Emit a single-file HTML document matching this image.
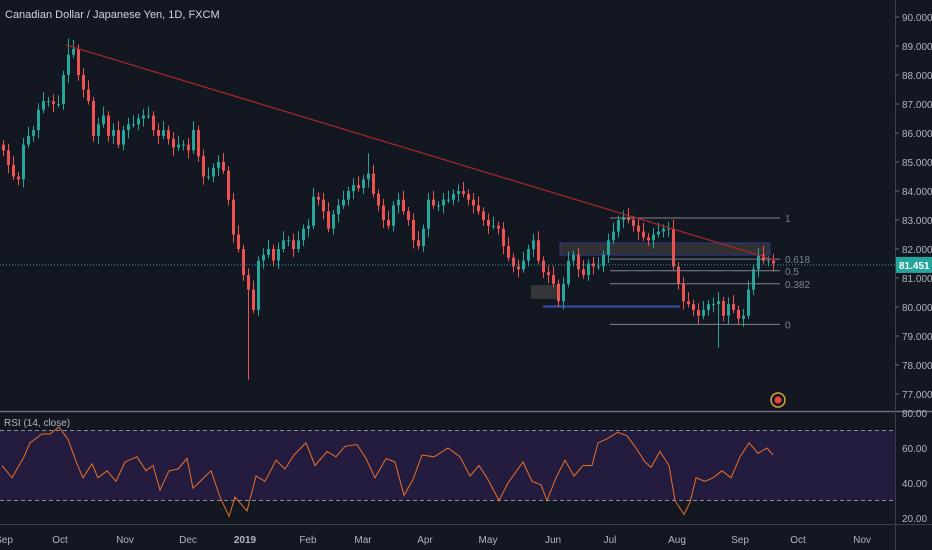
<!DOCTYPE html>
<html><head><meta charset="utf-8"><style>
html,body{margin:0;padding:0;background:#131722;}
svg{display:block;font-family:"Liberation Sans",sans-serif;}
</style></head><body>
<svg id="c" width="932" height="550" viewBox="0 0 932 550">
<rect x="0" y="0" width="932" height="550" fill="#131722"/>
<g id="rsiBand"></g>
<g id="candles"></g>
<g id="overlay"></g>
<g id="axes"></g>
</svg>
<script>
// ---- data ----
const closes = [85.4,84.9,84.5,84.4,85.6,85.9,86.1,86.8,87.1,87.1,87.0,87.0,88.0,88.7,88.9,88.0,87.5,87.1,85.9,86.3,
86.6,85.9,86.1,85.6,86.1,86.3,86.3,86.5,86.6,86.6,86.1,85.9,86.1,85.8,85.5,85.6,85.6,85.4,86.1,85.2,
84.5,84.5,84.8,85.0,84.7,83.7,82.5,82.0,81.1,80.6,79.9,81.6,81.8,82.0,81.6,82.0,82.3,82.3,82.0,82.3,
82.7,82.8,83.8,83.7,83.3,82.7,83.2,83.5,83.7,84.0,84.2,84.1,84.4,84.6,83.9,83.5,83.0,82.8,83.5,83.7,
83.3,83.0,82.3,82.1,82.7,83.7,83.5,83.5,83.7,83.7,83.9,84.0,83.9,83.7,83.5,83.3,83.0,82.8,82.8,82.7,
82.1,81.7,81.4,81.3,81.6,82.0,82.3,81.6,81.2,81.1,80.8,80.2,80.8,81.6,81.8,81.3,81.1,81.5,81.4,81.4,
81.8,82.3,82.6,83.0,83.1,83.0,82.8,82.6,82.4,82.3,82.5,82.6,82.7,82.7,81.4,80.8,80.2,80.1,79.9,79.7,
79.9,80.1,80.1,80.2,79.7,80.1,79.9,79.6,79.7,80.6,81.3,81.8,81.6,81.6,81.5];
const wickIdx = [49, 13, 143, 73];
const wickPrice = [77.5, 89.25, 78.6, 85.3];
const rsiIdx = [0,2,4.4,5.6,8,9.6,11.4,13.2,15,16.2,18,19.2,21,22.8,24.6,27,28.8,30.2,31.6,33.4,35.2,37,38.2,40,41.8,43.6,45.4,46.6,49,50.8,52.6,54.8,56.6,58.4,60.8,62.6,65,66.8,68.6,71,72.8,74.6,76.8,78.6,80.4,82.2,84,86.4,89.2,91.6,93.6,95.4,97.2,99.4,101.2,104.2,106,107.8,109,110.8,112.6,114.4,116.2,118,119.2,120.8,123.2,125,126.8,128.6,129.8,131.6,133.4,134.6,136.4,137.6,138.8,140.6,142.2,144,145.8,147.6,149.4,151.2,153,154.2];
const rsiVal = [50,43,55,63,68,68,72,65,51,43,51,43,47,41,52,55,47,50,36,47,48,54,37,42,47,32,21,32,24,44,41,53,48,56,63,50,58,55,61,62,54,43,54,52,33,42,56,55,60,55,44,50,42,30,40,52,41,39,30,43,53,44,50,50,63,65,69,67,60,52,49,58,50,30,22,29,43,41,43,47,43,55,63,57,60,56];
const priceTicks = [90,89,88,87,86,85,84,83,82,81,80,79,78,77];
const rsiTicks = [80,60,40,20];
const monthLabels = ["Sep","Oct","Nov","Dec","2019","Feb","Mar","Apr","May","Jun","Jul","Aug","Sep","Oct","Nov"];
const monthIdx = [0.4,11.6,24.6,37.2,48.6,61.2,72.2,84.6,97.2,110.2,121.6,135,147.6,159.2,172];
const fibLevels = ["1","0.618","0.5","0.382","0"];
const fibPrices = [83.07,81.65,81.25,80.8,79.4];
const lastPrice = 81.451;

// ---- scales ----
const NS="http://www.w3.org/2000/svg";
const X = i => 2 + i*5;
const Y = p => 220 + (83-p)*29;
const RY = v => 448 + (60-v)*1.75;
function el(tag, attrs, parent){const e=document.createElementNS(NS,tag);for(const k in attrs)e.setAttribute(k,attrs[k]);parent.appendChild(e);return e;}
const gR=document.getElementById('rsiBand'), gC=document.getElementById('candles'), gO=document.getElementById('overlay'), gA=document.getElementById('axes');

// RSI band
let band=el('rect',{x:0,y:RY(70),width:895,height:RY(30)-RY(70),fill:'#241c3f'},gR);


[70,30].forEach(v=>{let l=el('line',{x1:0,x2:895,y1:RY(v),y2:RY(v),stroke:'#8a8ea0','stroke-dasharray':'4 3','stroke-width':1},gR);

});

// boxes (zones)
let z1=el('rect',{x:560,y:243,width:210,height:12,fill:'#4a4640','fill-opacity':0.55,stroke:'#2b3a8c','stroke-width':1},gC);


let z2=el('rect',{x:531,y:285,width:26,height:14,fill:'#4a4a4a','fill-opacity':0.6},gC);


let bl=el('line',{x1:543,x2:680,y1:306.5,y2:306.5,stroke:'#3650b0','stroke-width':2},gC);



// fib
fibPrices.forEach((p,k)=>{
  let l=el('line',{x1:610,x2:780,y1:Y(p),y2:Y(p),stroke:'#80838c','stroke-width':1},gO);
  
  
  let t=el('text',{x:785,y:Y(p)+4,fill:'#80838c','font-size':10},gO);t.textContent=fibLevels[k];
  
  
});

// candles
closes.forEach((c,i)=>{
  const o = i===0 ? c+0.2 : closes[i-1];
  const up = c>=o;
  let hi=Math.max(o,c)+0.15+0.08*(i%3), lo=Math.min(o,c)-0.12-0.08*((i+1)%3);
  const w=wickIdx.indexOf(i);
  if(w>=0){ if(wickPrice[w]<lo) lo=wickPrice[w]; else hi=Math.max(hi,wickPrice[w]); }
  const col = up?'#26a69a':'#ef5350';
  const g=el('g',{},gC);
  
  
  el('line',{x1:X(i)+1.5,x2:X(i)+1.5,y1:Y(hi),y2:Y(lo),stroke:col,'stroke-width':1},g);
  el('rect',{x:X(i),y:Y(Math.max(o,c)),width:3,height:Math.max(1,Math.abs(Y(o)-Y(c))),fill:col},g);
});

// trend line
let tl=el('line',{x1:66,y1:45,x2:775,y2:260,stroke:'#a82828','stroke-width':1.2},gO);


// last price line
let lp=el('line',{x1:0,x2:895,y1:Y(lastPrice),y2:Y(lastPrice),stroke:'#26a69a','stroke-dasharray':'1 2','stroke-width':1},gO);



// RSI line
let d=rsiIdx.map((t,k)=>(k?'L':'M')+X(t).toFixed(1)+' '+RY(rsiVal[k]).toFixed(1)).join(' ');
let rl=el('path',{d:d,fill:'none',stroke:'#e8702a','stroke-width':1},gO);



// axes
let sep=el('line',{x1:0,x2:932,y1:411.5,y2:411.5,stroke:'#6a6d78','stroke-width':1.5},gA);


let bot=el('line',{x1:0,x2:932,y1:524.5,y2:524.5,stroke:'#3a3e4a','stroke-width':1},gA);


let vax=el('line',{x1:895.5,x2:895.5,y1:0,y2:550,stroke:'#3a3e4a','stroke-width':1},gA);


priceTicks.forEach(p=>{
  el('line',{x1:895,x2:899,y1:Y(p),y2:Y(p),stroke:'#6a6d78'},gA);
  let t=el('text',{x:902,y:Y(p)+4,fill:'#b2b5be','font-size':10},gA);t.textContent=p.toFixed(3);
  
  
});
rsiTicks.forEach(v=>{
  let t=el('text',{x:902,y:RY(v)+4,fill:'#b2b5be','font-size':10},gA);t.textContent=v.toFixed(2);
  
  
});
monthLabels.forEach((m,k)=>{
  let t=el('text',{x:X(monthIdx[k]),y:543,fill:'#b2b5be','font-size':10,'text-anchor':'middle','font-weight':m==='2019'?'bold':'normal'},gA);t.textContent=m;
  
  
});
// price label
let pb=el('rect',{x:896,y:Y(lastPrice)-8,width:36,height:16,fill:'#26a69a'},gA);


let pt=el('text',{x:899,y:Y(lastPrice)+4,fill:'#ffffff','font-size':10,'font-weight':'bold'},gA);pt.textContent=lastPrice.toFixed(3);


</script>
<svg style="position:absolute;left:0;top:0" width="932" height="550">
<text x="5" y="18" fill="#d1d4dc" font-size="11" font-family="Liberation Sans, sans-serif">Canadian Dollar / Japanese Yen, 1D, FXCM</text>
<text x="4" y="426" fill="#b2b5be" font-size="10" font-family="Liberation Sans, sans-serif">RSI (14, close)</text>
<g>
<circle cx="778" cy="400" r="7" fill="#131722" stroke="#d9a441" stroke-width="1.5"/>
<circle cx="778" cy="400" r="3.5" fill="#f0443a"/>
</g>
</svg>
</body></html>
